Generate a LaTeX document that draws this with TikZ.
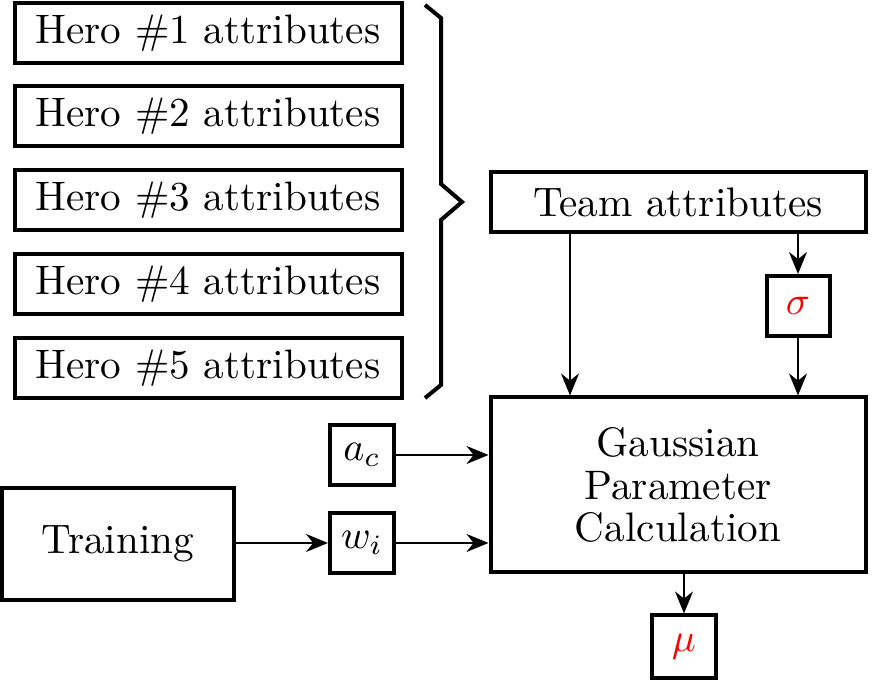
\documentclass[tikz,border=0pt]{standalone}
\usepackage{amsmath}
\usepackage{xcolor}
\usetikzlibrary{arrows.meta, positioning, calc}

\begin{document}
\begin{tikzpicture}[
    x=0.25pt, y=-0.25pt,
    font=\fontsize{10.3pt}{10.6pt}\selectfont,
    box/.style={draw, line width=1pt, inner sep=0pt, align=center},
    hero/.style={box, minimum width=96.75pt, minimum height=15pt},
    small/.style={box, minimum width=16pt, minimum height=15pt},
    arr/.style={-{Stealth[length=5.5pt, width=4.5pt]}, line width=0.5pt}
]
    \useasboundingbox (0,0) rectangle (879,680);

    % Heroes (left column)
    \foreach \i/\y in {1/33, 2/116, 3/200, 4/284, 5/368}
        \node[hero] (hero\i) at (208, \y) {Hero \#\i\ attributes};

    % Brace
    \draw[line width=1pt] (425,5) -- (441,18) -- (441,184) -- (462,202)
        -- (441,220) -- (441,385) -- (425,398);

    % Team and sigma
    \node[box, minimum width=93.75pt, minimum height=15pt] (team) at (678, 202) {Team attributes};
    \node[small, minimum width=15.75pt] (sigma) at (798, 306) {$\color{red}\sigma$};

    % Gaussian parameter calculation
    \node[box, minimum width=93.75pt, minimum height=43.75pt] (gauss) at (678, 485)
        {Gaussian\\Parameter\\Calculation};

    % Inputs
    \node[small] (ac) at (362, 455) {$a_c$};
    \node[small] (wi) at (362, 543) {$w_i$};
    \node[box, minimum width=58pt, minimum height=28pt] (train) at (118, 544) {Training};

    % Output
    \node[small, minimum height=15.75pt] (mu) at (684, 647) {$\color{red}\mu$};

    % Arrows
    \draw[arr] ([xshift=-27pt]team.south) -- ([xshift=-27pt]gauss.north);
    \draw[arr] (team.south -| sigma) -- (sigma.north);
    \draw[arr] (sigma.south) -- (sigma |- gauss.north);
    \draw[arr] (ac.east) -- (ac -| gauss.west);
    \draw[arr] (wi.east) -- (wi -| gauss.west);
    \draw[arr] (train.east |- wi) -- (wi.west);
    \draw[arr] (gauss.south -| mu) -- (mu.north);
\end{tikzpicture}
\end{document}
